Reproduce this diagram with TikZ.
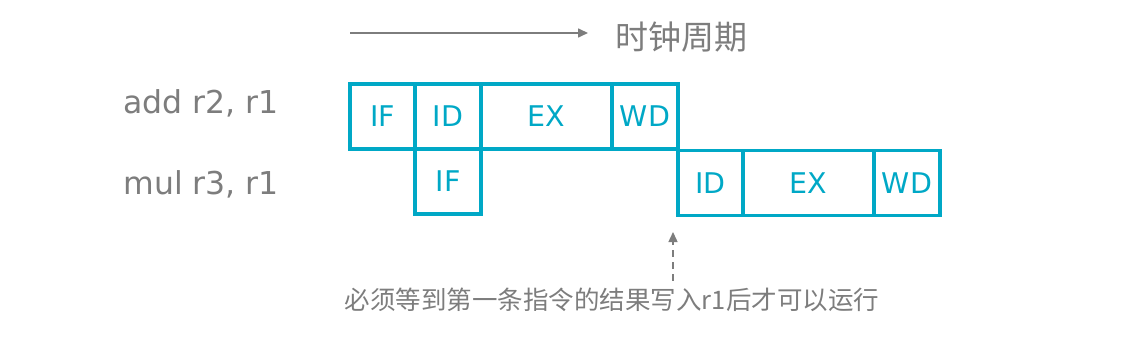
\documentclass[tikz,border=0pt]{standalone}
\usepackage{fontspec}
\setmainfont{Noto Sans CJK SC}
\newfontfamily\latinfont{DejaVu Sans}
\usepackage{tikz}
\usetikzlibrary{arrows.meta,calc}
\usepackage{xcolor}
\definecolor{pipe}{RGB}{0,168,198}
\definecolor{note}{RGB}{125,125,125}

\begin{document}
\begin{tikzpicture}[x=1pt,y=-1pt,
  stage/.style={draw=pipe,line width=3.6pt,text=pipe,minimum height=65pt,
     inner sep=0pt,font=\latinfont\fontsize{28.5}{28.5}\selectfont},
  instr/.style={text=note,anchor=west,font=\latinfont\fontsize{31.5}{31.5}\selectfont},
  tip/.style={-{Triangle[length=10pt,width=9pt]},note,line width=1.6pt}]
  \useasboundingbox (0,0) rectangle (1142,342);
  % time axis
  \coordinate (t0) at (350,33);
  \coordinate (t1) at (588,33);
  \draw[tip] (t0) -- (t1);
  \node[text=note,anchor=west,font=\fontsize{33}{33}\selectfont] (clk) at (612,37) {时钟周期};
  % instructions
  \node[instr] (add) at (120,103) {add r2, r1};
  \node[instr] (mul) at (120,184) {mul r3, r1};
  % first instruction
  \node[stage,minimum width=65pt]  (a-if) at (382.5,116.5) {IF};
  \node[stage,minimum width=66pt]  (a-id) at (448,116.5) {ID};
  \node[stage,minimum width=131pt] (a-ex) at (546.5,116.5) {EX};
  \node[stage,minimum width=66pt]  (a-wd) at (645,116.5) {WD};
  % second instruction
  \node[stage,minimum width=66pt]  (m-if) at (448,181.5) {IF};
  \node[stage,minimum width=65pt]  (m-id) at (710.5,183) {ID};
  \node[stage,minimum width=131pt] (m-ex) at (808.5,183) {EX};
  \node[stage,minimum width=66pt]  (m-wd) at (907,183) {WD};
  % stall note
  \node[text=note,font=\fontsize{25.5}{25.5}\selectfont] (stall) at (612,300) {必须等到第一条指令的结果写入r1后才可以运行};
  \coordinate (wait) at (673,232);
  \draw[tip,line width=1.4pt,dashed,dash pattern=on 7pt off 5pt] ($(stall.north -| wait)+(0,-4)$) -- (wait);
\end{tikzpicture}
\end{document}
